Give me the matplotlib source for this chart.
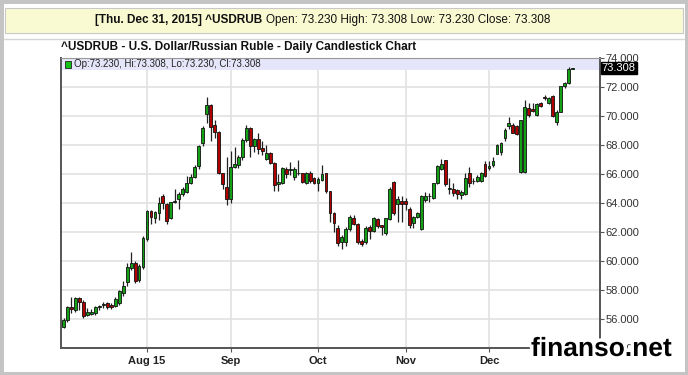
import matplotlib
matplotlib.use("Agg")
import matplotlib.pyplot as plt
import matplotlib.patheffects as pe
from matplotlib.patches import Rectangle
import numpy as np
import pandas as pd

# daily USD/RUB candles, 3 Jul 2015 - 31 Dec 2015
opens = [55.45, 55.95, 56.85, 56.6, 57.45, 57.2, 56.3, 56.35, 56.4, 56.85,
         56.95, 57.1, 57.0, 56.9, 57.1, 57.8, 58.55, 59.5, 59.85, 58.7,
         59.6, 61.5, 63.45, 63.0, 63.3, 64.5, 63.9, 62.95, 64.1, 64.3,
         64.6, 64.75, 65.4, 65.8, 66.55, 68.15, 70.15, 70.75, 69.4, 68.9,
         66.05, 65.1, 64.3, 66.5, 66.6, 67.2, 68.35, 69.2, 67.9, 68.4,
         67.8, 67.05, 67.45, 66.75, 65.3, 65.35, 66.35, 66.3, 65.8, 66.05,
         66.05, 65.4, 66.05, 65.7, 65.35, 65.6, 66.05, 64.8, 63.3, 62.3,
         61.3, 61.3, 62.2, 63.0, 62.55, 61.4, 61.3, 62.35, 62.05, 62.9,
         62.45, 61.9, 62.9, 65.45, 63.95, 64.15, 64.15, 63.6, 62.6, 63.05,
         62.2, 64.2, 64.45, 64.35, 65.35, 66.35, 66.95, 65.0, 64.95, 64.9,
         64.55, 64.6, 66.05, 65.5, 65.5, 65.5, 66.7, 66.4, 66.6, 67.4,
         67.5, 68.5, 69.3, 69.4, 69.3, 66.15, 66.15, 70.55, 70.5, 70.05,
         70.9, 71.3, 70.9, 71.4, 69.6, 70.3, 72.1, 72.25, 73.23]
highs = [56.05, 56.9, 57.5, 57.55, 57.5, 57.3, 56.75, 56.7, 56.9, 57.0,
         57.15, 57.2, 57.1, 57.5, 58.0, 58.6, 59.85, 60.6, 60.0, 59.8,
         61.7, 63.5, 63.5, 63.45, 64.4, 64.6, 64.0, 64.1, 65.0, 64.75,
         65.1, 65.85, 66.0, 66.6, 68.0, 69.3, 71.3, 70.8, 69.7, 68.95,
         66.1, 67.2, 67.6, 67.85, 67.3, 68.45, 69.35, 69.25, 68.5, 68.8,
         68.25, 68.0, 67.55, 66.8, 66.0, 66.5, 66.5, 66.8, 66.45, 66.95,
         66.1, 66.15, 66.2, 65.8, 65.8, 66.6, 66.1, 64.85, 63.4, 62.45,
         61.8, 62.35, 63.15, 63.2, 62.6, 61.5, 62.4, 62.5, 63.05, 63.0,
         62.5, 63.0, 65.1, 65.5, 64.5, 64.45, 64.35, 63.7, 63.1, 63.4,
         64.55, 64.75, 64.7, 65.4, 66.6, 67.05, 67.0, 65.7, 65.4, 65.0,
         64.9, 66.05, 66.5, 65.75, 65.9, 66.15, 66.9, 66.9, 67.2, 68.05,
         68.2, 69.2, 69.9, 69.5, 69.35, 69.75, 71.1, 70.9, 70.9, 70.9,
         71.0, 71.45, 71.3, 71.45, 70.4, 72.1, 72.35, 73.35, 73.308]
lows = [55.35, 55.8, 56.4, 56.5, 56.6, 56.1, 56.2, 56.25, 56.25, 56.6,
        56.75, 56.7, 56.7, 56.8, 57.0, 57.6, 58.3, 59.4, 58.5, 58.55,
        59.45, 61.4, 62.55, 62.6, 62.8, 63.6, 62.55, 62.9, 64.0, 63.6,
        64.5, 64.7, 65.3, 65.7, 66.35, 67.9, 69.5, 68.3, 68.5, 66.0,
        64.95, 63.85, 64.0, 66.4, 66.4, 67.0, 68.2, 67.2, 67.5, 67.4,
        67.3, 67.0, 66.7, 64.85, 64.85, 65.3, 65.7, 65.9, 65.6, 65.95,
        65.35, 65.3, 65.35, 65.3, 64.8, 65.5, 64.7, 62.7, 62.0, 61.05,
        60.8, 61.05, 62.1, 62.5, 61.2, 61.05, 61.2, 61.5, 62.0, 62.3,
        61.8, 61.8, 62.8, 63.2, 62.7, 62.7, 63.5, 62.3, 62.3, 63.0,
        62.15, 64.1, 64.1, 64.3, 65.3, 66.3, 65.2, 64.6, 64.5, 64.3,
        64.3, 64.55, 65.1, 65.3, 65.45, 65.45, 65.8, 66.3, 66.5, 67.35,
        67.3, 68.3, 69.1, 68.8, 68.7, 66.1, 66.1, 69.95, 70.3, 70.0,
        70.6, 71.1, 70.8, 69.95, 69.4, 70.25, 71.9, 72.2, 73.23]
closes = [55.9, 56.8, 56.7, 57.45, 57.2, 56.2, 56.5, 56.45, 56.8, 56.9,
          57.0, 56.8, 56.8, 57.4, 57.9, 58.3, 59.6, 59.85, 58.6, 59.65,
          61.6, 63.45, 63.05, 63.4, 64.0, 64.0, 62.75, 64.05, 64.15, 64.6,
          64.95, 65.4, 65.8, 66.5, 67.95, 69.2, 70.75, 69.25, 68.9, 66.05,
          65.3, 64.3, 66.5, 66.7, 67.15, 68.35, 69.2, 67.9, 68.4, 67.7,
          67.6, 67.45, 66.75, 65.25, 65.45, 66.4, 66.0, 66.35, 66.35, 66.1,
          65.45, 66.05, 65.5, 65.4, 65.65, 66.0, 64.8, 63.3, 62.6, 61.25,
          61.65, 62.2, 63.0, 62.55, 61.3, 61.2, 62.3, 62.05, 62.95, 62.4,
          62.35, 62.95, 64.95, 63.3, 64.3, 63.95, 63.95, 62.5, 63.05, 63.3,
          64.5, 64.5, 64.5, 65.35, 66.55, 66.7, 65.3, 65.05, 64.7, 64.6,
          64.75, 65.7, 65.35, 65.55, 65.8, 66.05, 65.85, 66.55, 66.9, 68.0,
          68.15, 69.05, 69.5, 68.85, 68.75, 69.7, 70.6, 70.05, 70.35, 70.8,
          70.7, 71.25, 71.25, 70.0, 70.3, 72.05, 72.25, 73.25, 73.308]

dates = pd.bdate_range("2015-07-03", "2015-12-31")
dates = dates[dates != pd.Timestamp("2015-12-25")]

month_starts = ["2015-08-01", "2015-09-01", "2015-10-01", "2015-11-01", "2015-12-01"]
month_labels = ["Aug 15", "Sep", "Oct", "Nov", "Dec"]

price_ticks = np.arange(54, 75, 2)

narrow = ["Liberation Sans Narrow", "Liberation Sans", "DejaVu Sans"]

W, H = 688, 375
fig = plt.figure(figsize=(W / 100, H / 100), dpi=100)
fig.patch.set_facecolor("white")

# outer frame, banner and separator
fig.add_artist(Rectangle((0, 0), 1, 1, transform=fig.transFigure, fill=False,
                         edgecolor="#c4c4c4", lw=5))
fig.add_artist(Rectangle((5 / W, 1 - 33 / H), 678 / W, 25 / H, transform=fig.transFigure,
                         facecolor="#fafad2", edgecolor="#c8c8c8", lw=0.8))
fig.add_artist(plt.Line2D([4 / W, 684 / W], [1 - 39 / H, 1 - 39 / H],
                          transform=fig.transFigure, color="#d6d6d6", lw=1))

fig.text(262 / W, 1 - 20 / H, "[Thu. Dec 31, 2015] ^USDRUB", ha="right", va="center",
         fontsize=8.5, fontweight="bold", family=narrow, color="#111")
fig.text(266 / W, 1 - 20 / H, "Open: 73.230 High: 73.308 Low: 73.230 Close: 73.308",
         ha="left", va="center", fontsize=8.5, family=narrow, color="#111")

fig.text(61 / W, 1 - 47 / H, "^USDRUB - U.S. Dollar/Russian Ruble - Daily Candlestick Chart",
         ha="left", va="center", fontsize=8.5, fontweight="bold", family=narrow, color="#111")

ax = fig.add_axes([61 / W, 1 - 348 / H, 539 / W, 290 / H])
ax.set_facecolor("white")

x = np.arange(len(dates))
o = np.array(opens)
h = np.array(highs)
l = np.array(lows)
c = np.array(closes)
up = c >= o

ax.vlines(x, l, h, color="#222222", lw=0.9, zorder=3)
body = np.maximum(np.abs(c - o), 0.04)
ax.bar(x[up], body[up], bottom=np.minimum(o, c)[up], width=0.72,
       color="#14a014", edgecolor="#111111", lw=0.6, zorder=4)
ax.bar(x[~up], body[~up], bottom=np.minimum(o, c)[~up], width=0.72,
       color="#b00000", edgecolor="#111111", lw=0.6, zorder=4)

tick_pos = [int(np.searchsorted(dates, pd.Timestamp(m))) for m in month_starts]
ax.set_xticks(tick_pos)
ax.set_xticklabels(month_labels, fontsize=8, fontweight="bold", family=narrow, color="#222")
ax.set_xlim(-0.63, 134.9)

ax.set_ylim(54, 74)
ax.set_yticks(price_ticks)
ax.set_yticklabels([f"{v:.3f}" for v in price_ticks], fontsize=8, family=narrow, color="#333")
ax.yaxis.tick_right()
ax.tick_params(axis="y", length=3, width=0.8, color="#555", pad=1)
ax.tick_params(axis="x", length=3, width=0.8, color="#555", pad=3)

ax.grid(True, color="#e2e2e2", lw=1.2, zorder=0)
ax.set_axisbelow(True)
for side in ["left", "bottom", "right"]:
    ax.spines[side].set_color("#555555")
    ax.spines[side].set_linewidth(1.4)
ax.spines["top"].set_color("#999999")
ax.spines["top"].set_linewidth(0.8)

# info band at the top of the plot
ax.add_patch(Rectangle((0, 1 - 12 / 290), 1, 12 / 290, transform=ax.transAxes,
                       facecolor="#e6e6fa", edgecolor="none", zorder=1))
ax.add_patch(Rectangle((4 / 539, 1 - 9.5 / 290), 6 / 539, 6 / 290, transform=ax.transAxes,
                       facecolor="#14c014", edgecolor="#222", lw=0.6, zorder=5))
ax.text(13 / 539, 1 - 6 / 290, "Op:73.230, Hi:73.308, Lo:73.230, Cl:73.308",
        transform=ax.transAxes, va="center", ha="left", fontsize=7, family=narrow,
        color="#222", zorder=5)

# last price marker
ax.text(1.003, closes[-1], f"{closes[-1]:.3f}", transform=ax.get_yaxis_transform(),
        va="center", ha="left", fontsize=8, family=narrow, color="white",
        bbox=dict(boxstyle="square,pad=0.1", facecolor="black", edgecolor="black"),
        clip_on=False, zorder=6)

fig.text(531 / W, 1 - 356 / H, "finanso.net", ha="left", va="baseline", fontsize=19,
         fontweight="bold", family=["Liberation Sans", "DejaVu Sans"], color="black",
         path_effects=[pe.withStroke(linewidth=5, foreground="white")], zorder=10)

fig.savefig("out.png", dpi=100)
